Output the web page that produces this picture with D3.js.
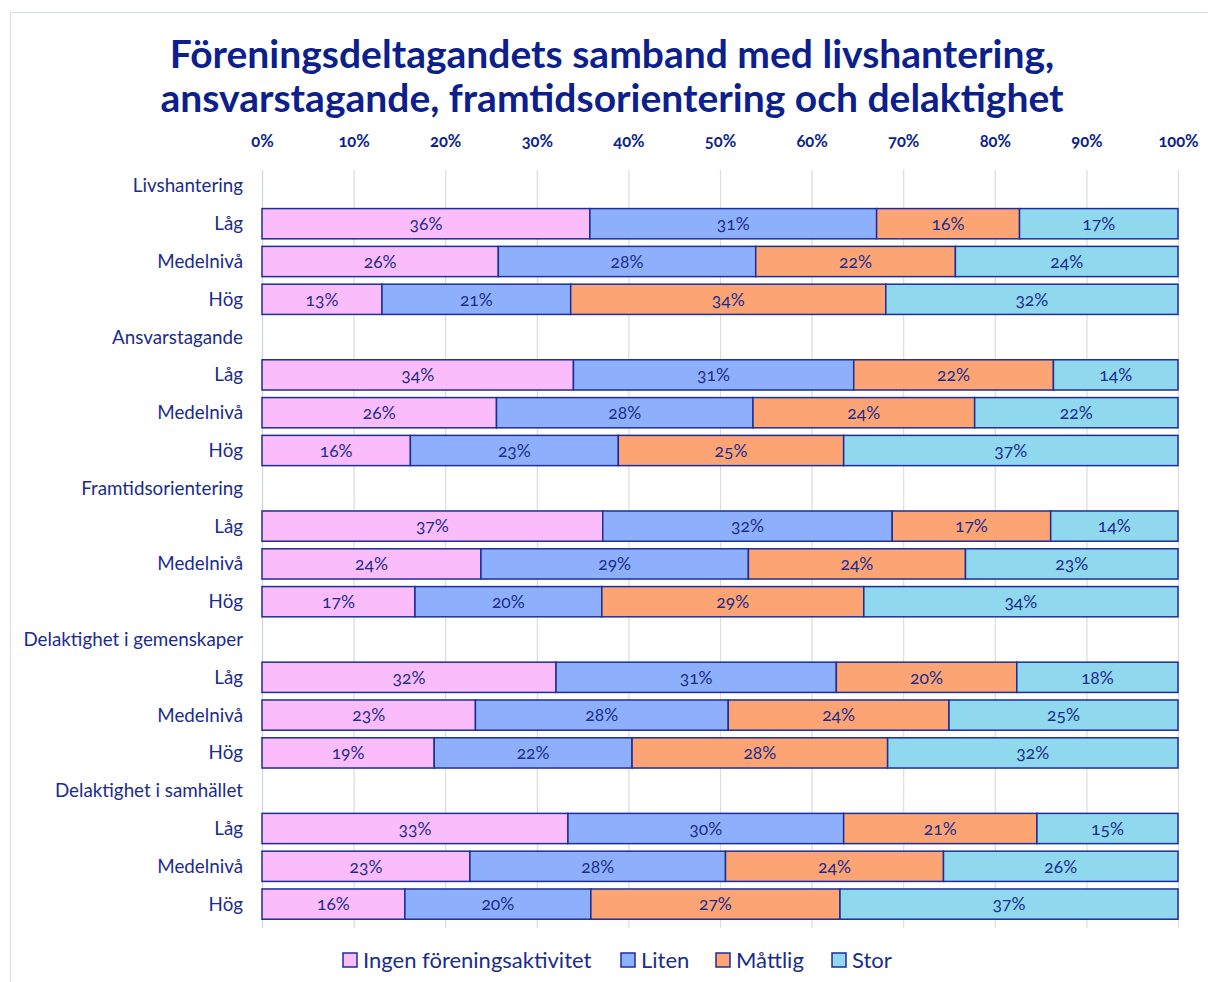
<!DOCTYPE html>
<html>
<head>
<meta charset="utf-8">
<script src="https://cdn.jsdelivr.net/npm/d3@7"></script>
<style>
  body { margin: 0; background: #fff; }
  svg { display: block; font-family: Lato, "Noto Sans", sans-serif; }
</style>
</head>
<body>
<svg id="chart" width="1208" height="982"></svg>
<script>
const groups = ["Livshantering", "Ansvarstagande", "Framtidsorientering", "Delaktighet i gemenskaper", "Delaktighet i samhället"]
const levels = ["Låg", "Medelnivå", "Hög"]
const seriesNames = ["Ingen föreningsaktivitet", "Liten", "Måttlig", "Stor"]
const colors = ["#fbbcfb", "#8eb0fc", "#fda474", "#8fd8ee"]

// one value per bar row, in order group by group (Låg, Medelnivå, Hög)
const ingen   = [35.8, 25.8, 13.1, 34.0, 25.6, 16.2, 37.2, 23.9, 16.7, 32.1, 23.3, 18.8, 33.4, 22.7, 15.6]
const liten   = [31.3, 28.1, 20.6, 30.6, 28.0, 22.7, 31.6, 29.2, 20.4, 30.6, 27.6, 21.6, 30.1, 27.9, 20.3]
const mattlig = [15.6, 21.8, 34.4, 21.8, 24.2, 24.6, 17.3, 23.7, 28.6, 19.7, 24.1, 27.9, 21.1, 23.8, 27.2]
const stor    = [17.3, 24.3, 31.9, 13.6, 22.2, 36.5, 13.9, 23.2, 34.3, 17.6, 25.0, 31.7, 15.4, 25.6, 36.9]

const xTicks = [0, 10, 20, 30, 40, 50, 60, 70, 80, 90, 100]

const navy = "#0c1f8c"
const svg = d3.select("#chart")
const plotLeft = 262, plotRight = 1178, plotTop = 167, plotBottom = 923

// rows: header row then 3 level rows per group
const rows = []
const bars = []
let k = 0
groups.forEach((g, gi) => {
    rows.push({id: "h" + gi, label: g})
    levels.forEach((l, li) => {
        const id = "r" + gi + "_" + li
        rows.push({id: id, label: l})
        bars.push({id: id, "Ingen föreningsaktivitet": ingen[k], "Liten": liten[k], "Måttlig": mattlig[k], "Stor": stor[k]})
        k++
    })
})

const x = d3.scaleLinear().domain([0, 100]).range([plotLeft, plotRight])
const y = d3.scaleBand().domain(rows.map(d => d.id)).range([plotTop, plotBottom])
    .paddingInner(0.2).paddingOuter(0.1)
const color = d3.scaleOrdinal().domain(seriesNames).range(colors)

// frame
svg.append("path")
    .attr("d", "M10.5,982 L10.5,12.5 L1208,12.5")
    .attr("fill", "none")
    .attr("stroke", "#d6dcf0")
    .attr("stroke-width", 1)

// title
svg.append("text")
    .attr("x", 612).attr("text-anchor", "middle")
    .attr("fill", navy)
    .attr("font-weight", 700)
    .attr("font-size", 39)
    .selectAll("tspan")
    .data(["Föreningsdeltagandets samband med livshantering,", "ansvarstagande, framtidsorientering och delaktighet"])
    .enter().append("tspan")
    .attr("x", 612)
    .attr("y", (d, i) => 68 + i * 44)
    .text(d => d)

// grid
svg.append("g")
    .selectAll("line")
    .data(xTicks)
    .enter().append("line")
    .attr("x1", d => x(d) + 0.5).attr("x2", d => x(d) + 0.5)
    .attr("y1", 170).attr("y2", 928)
    .attr("stroke", d => d === 0 ? "#c9d1ec" : "#dcdcdc")
    .attr("stroke-width", 1.2)

// top axis
const xAxis = svg.append("g")
    .attr("transform", "translate(0,150)")
    .call(d3.axisTop(x).tickValues(xTicks).tickFormat(d => d + "%").tickSize(0))
xAxis.select(".domain").remove()
xAxis.selectAll("text")
    .attr("fill", navy)
    .attr("font-family", "Lato, sans-serif")
    .attr("font-weight", 700)
    .attr("font-size", 16.5)
    .style("font-variant-numeric", "oldstyle-nums")

// row labels
svg.append("g")
    .selectAll("text")
    .data(rows)
    .enter().append("text")
    .attr("x", 243)
    .attr("y", d => y(d.id) + y.bandwidth() / 2)
    .attr("dy", "0.35em")
    .attr("text-anchor", "end")
    .attr("fill", "#1b2c8c")
    .attr("font-size", 18.8)
    .text(d => d.label)

// stacked bars
const stack = d3.stack().keys(seriesNames)(bars)

const layer = svg.append("g")
    .selectAll("g")
    .data(stack)
    .enter().append("g")
    .attr("fill", d => color(d.key))

layer.selectAll("rect")
    .data(d => d)
    .enter().append("rect")
    .attr("x", d => x(d[0]))
    .attr("y", d => y(d.data.id))
    .attr("width", d => x(d[1]) - x(d[0]))
    .attr("height", y.bandwidth())
    .attr("stroke", "#1c2e99")
    .attr("stroke-width", 1.5)

layer.selectAll("text")
    .data(d => d)
    .enter().append("text")
    .attr("x", d => (x(d[0]) + x(d[1])) / 2)
    .attr("y", d => y(d.data.id) + y.bandwidth() / 2)
    .attr("dy", "0.36em")
    .attr("text-anchor", "middle")
    .attr("fill", "#1b2c8c")
    .attr("font-size", 17.5)
    .style("font-variant-numeric", "oldstyle-nums")
    .text(d => Math.round(d[1] - d[0]) + "%")

// legend
const legendX = [343, 621, 716, 832]
const legend = svg.append("g")
    .selectAll("g")
    .data(seriesNames)
    .enter().append("g")
    .attr("transform", (d, i) => "translate(" + legendX[i] + ",960)")

legend.append("rect")
    .attr("x", 0).attr("y", -7)
    .attr("width", 14).attr("height", 14)
    .attr("fill", d => color(d))
    .attr("stroke", "#1c2e99")
    .attr("stroke-width", 1.5)

legend.append("text")
    .attr("x", 20)
    .attr("dy", "0.35em")
    .attr("fill", "#1b2c8c")
    .attr("font-size", 22)
    .text(d => d)
</script>
</body>
</html>
